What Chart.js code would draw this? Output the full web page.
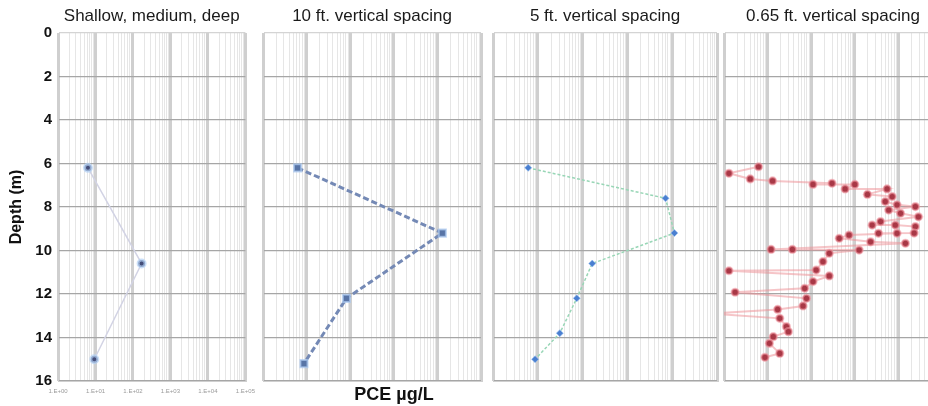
<html><head>
<title>PCE depth profiles</title>
<style>
  body {
    margin: 0;
    width: 928px;
    height: 406px;
    overflow: hidden;
    background: #fff;
    position: relative;
    font-family: 'Liberation Sans', Arial, sans-serif;
  }
  canvas {
    position: absolute;
    top: 0;
  }
  #xTitle {
    position: absolute;
    left: 394px;
    top: 394px;
    transform: translate(-50%, -50%);
    font-weight: bold;
    font-size: 18px;
    color: #111;
    white-space: nowrap;
  }
</style>
<script src="https://cdn.jsdelivr.net/npm/chart.js"></script>
</head>
<body>
<canvas id="p1" width="262" height="406" style="left:0px"></canvas>
<canvas id="p2" width="232" height="406" style="left:256px"></canvas>
<canvas id="p3" width="234" height="406" style="left:488px"></canvas>
<canvas id="p4" width="230" height="406" style="left:718px"></canvas>
<div id="xTitle">PCE µg/L</div>

<script>
// Panel titles
const panelTitles = ['Shallow, medium, deep', '10 ft. vertical spacing', '5 ft. vertical spacing', '0.65 ft. vertical spacing'];

// Shallow, medium, deep
const shallowDepth = [6.2, 10.6, 15.0];
const shallowPce = [6.3, 170, 9.3];

// 10 ft spacing
const tenFtDepth = [6.2, 9.2, 12.2, 15.2];
const tenFtPce = [6.2, 13000, 82, 8.7];

// 5 ft spacing
const fiveFtDepth = [6.2, 7.6, 9.2, 10.6, 12.2, 13.8, 15.0];
const fiveFtPce = [6.1, 7100, 11200, 164, 74, 31, 8.7];

// 0.65 ft spacing
const fineDepth = [6.15, 6.45, 6.71, 6.8, 6.91, 6.96, 6.96, 7.17, 7.17, 7.42, 7.52, 7.75, 7.9, 7.98,
  8.14, 8.29, 8.45, 8.67, 8.83, 8.83, 8.9, 9.2, 9.21, 9.21, 9.29, 9.44, 9.6, 9.67, 9.95, 9.95, 9.98,
  10.13, 10.51, 10.9, 10.93, 11.17, 11.43, 11.74, 11.92, 12.2, 12.55, 12.71, 12.9, 13.12, 13.5,
  13.73, 13.96, 14.27, 14.73, 14.91];
const finePce = [6.2, 1.3, 4.0, 13, 300, 110, 1000, 600, 5500, 1950, 7200, 5000, 9300, 24500,
  6000, 11200, 28800, 3900, 2500, 8500, 24500, 23000, 3500, 9300, 740, 440, 2300, 14500, 12, 37, 1260,
  260, 186, 130, 1.3, 260, 110, 71, 1.8, 78, 65, 17, 0.5, 19, 27,
  30, 13.5, 11, 19, 8.7];

// x axis / y axis ranges
const pceMin = 1, pceMax = 100000;
const depthMin = 0, depthMax = 16, depthStep = 2;

const FONT = "'Liberation Sans', Arial, sans-serif";
Chart.defaults.font.family = FONT;

function toPoints(xs, ys) {
  return xs.map((x, i) => ({x: x, y: ys[i]}));
}

function isDecade(v) {
  const l = Math.log10(v);
  return Math.abs(l - Math.round(l)) < 1e-9;
}

function makeChart(id, idx, dataset, pad) {
  const first = idx === 0;
  return new Chart(document.getElementById(id), {
    type: 'scatter',
    data: {datasets: [dataset]},
    options: {
      responsive: false,
      animation: false,
      devicePixelRatio: 1,
      layout: {padding: pad},
      plugins: {
        legend: {display: false},
        tooltip: {enabled: false},
        title: {
          display: true,
          text: panelTitles[idx],
          fullSize: false,
          color: '#1a1a1a',
          font: {size: 17, weight: 'normal', family: FONT},
          padding: {top: 6, bottom: 6.6}
        }
      },
      scales: {
        x: {
          type: 'logarithmic',
          min: pceMin,
          max: pceMax,
          afterBuildTicks: s => {
            const t = [];
            for (let d = pceMin; d < pceMax; d *= 10) {
              for (let k = 1; k < 10; k++) t.push({value: d * k});
            }
            t.push({value: pceMax});
            s.ticks = t;
          },
          afterFit: s => { s.height = 25; },
          grid: {
            drawTicks: false,
            color: c => isDecade(c.tick.value) ? '#cfcfcf' : '#e6e6e6',
            lineWidth: c => isDecade(c.tick.value) ? 3 : 1
          },
          border: {display: true, color: '#cfcfcf'},
          ticks: {
            display: first,
            autoSkip: false,
            maxRotation: 0,
            padding: 7,
            color: '#9a9a9a',
            font: {size: 6, family: FONT},
            callback: v => isDecade(v) ? '1.E+' + String(Math.round(Math.log10(v))).padStart(2, '0') : ''
          }
        },
        y: {
          type: 'linear',
          reverse: true,
          min: depthMin,
          max: depthMax,
          afterFit: s => { s.width = first ? 58 : 0; },
          grid: {
            drawTicks: false,
            color: c => c.tick.value === depthMin ? '#d4d4d4' : '#a6a6a6',
            lineWidth: 1.2
          },
          border: {display: true, color: '#cfcfcf'},
          ticks: {
            display: first,
            stepSize: depthStep,
            padding: 6,
            color: '#111',
            font: {size: 15, weight: 'bold', family: FONT}
          },
          title: {
            display: first,
            text: 'Depth (m)',
            color: '#111',
            font: {size: 16, weight: 'bold', family: FONT},
            padding: {top: 7, bottom: 0}
          }
        }
      }
    }
  });
}

makeChart('p1', 0, {
  data: toPoints(shallowPce, shallowDepth),
  showLine: true,
  borderColor: '#d2d3e4',
  borderWidth: 1.5,
  pointRadius: 3.5,
  pointBackgroundColor: '#444d78',
  pointBorderColor: 'rgba(180,210,245,0.7)',
  pointBorderWidth: 3
}, {left: 0, right: 10, top: 0, bottom: 0});

makeChart('p2', 1, {
  data: toPoints(tenFtPce, tenFtDepth),
  showLine: true,
  borderColor: '#7489b5',
  borderWidth: 3,
  borderDash: [6, 3],
  pointStyle: 'rect',
  pointRadius: 5,
  pointBackgroundColor: '#5874a6',
  pointBorderColor: 'rgba(170,200,240,0.7)',
  pointBorderWidth: 2
}, {left: 4, right: 6, top: 0, bottom: 0});

makeChart('p3', 2, {
  data: toPoints(fiveFtPce, fiveFtDepth),
  showLine: true,
  borderColor: '#98d6b6',
  borderWidth: 1.5,
  borderDash: [3, 2],
  pointStyle: 'rectRot',
  pointRadius: 3.5,
  pointBackgroundColor: '#4a7fd0',
  pointBorderColor: 'rgba(150,190,240,0.6)',
  pointBorderWidth: 1
}, {left: 4, right: 5, top: 0, bottom: 0});

makeChart('p4', 3, {
  data: toPoints(finePce, fineDepth),
  showLine: true,
  clip: {left: 0, top: 6, right: 6, bottom: 6},
  borderColor: 'rgba(238,140,145,0.5)',
  borderWidth: 2,
  pointRadius: 3.6,
  pointBackgroundColor: '#a83846',
  pointBorderColor: 'rgba(240,150,160,0.6)',
  pointBorderWidth: 2
}, {left: 4, right: 6, top: 0, bottom: 0});
</script>
</body></html>
